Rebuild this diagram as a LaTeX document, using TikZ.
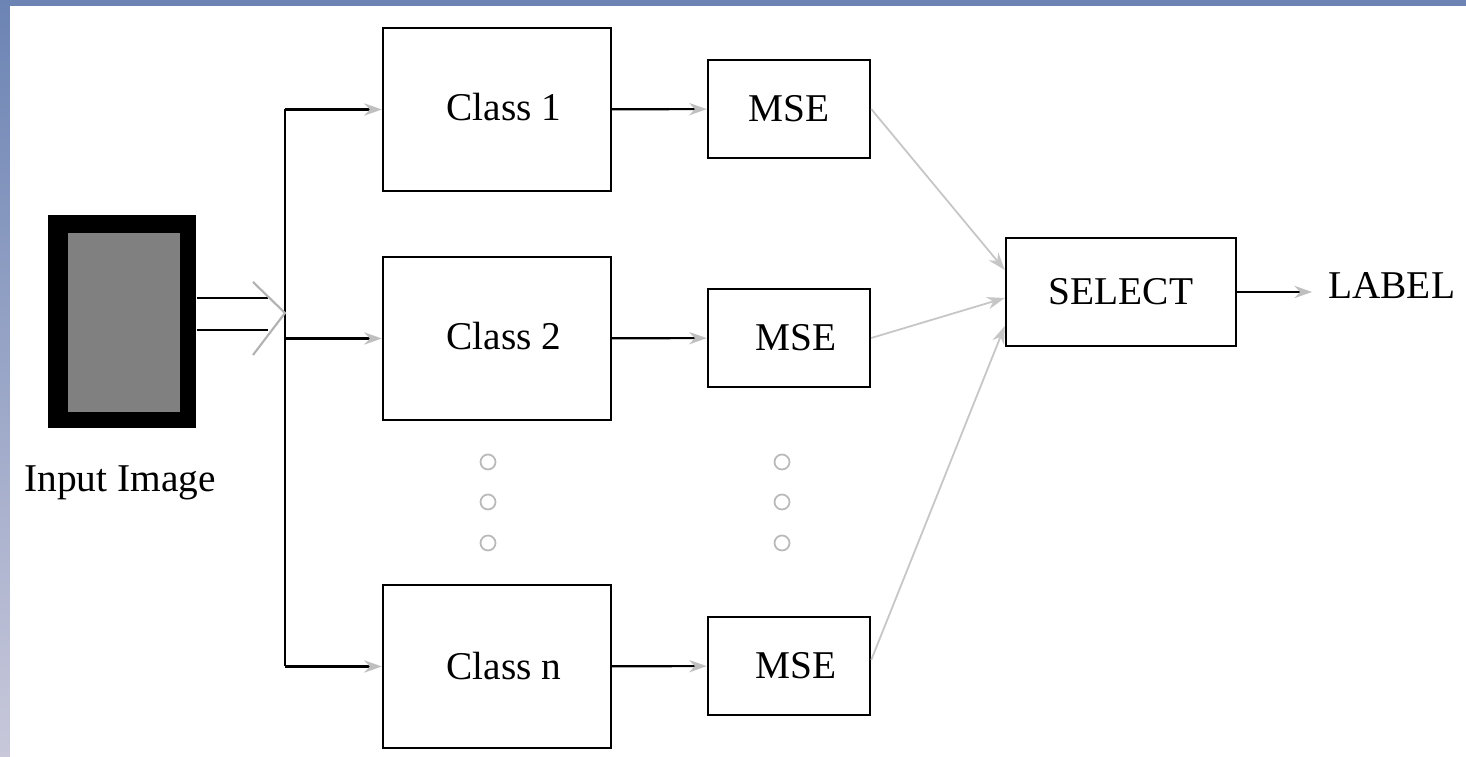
\documentclass[tikz,border=0pt]{standalone}
\usepackage{fontspec}
\setmainfont{Liberation Serif}
\usetikzlibrary{arrows.meta, positioning, calc}

\begin{document}
\begin{tikzpicture}[
    >=Stealth,
    every node/.style={font=\fontsize{11.2}{13}\selectfont},
    clsbox/.style={draw, line width=0.7pt, minimum width=2.28cm, minimum height=1.63cm},
    msebox/.style={draw, line width=0.7pt, minimum width=1.62cm, minimum height=0.98cm},
    feed/.style={line width=0.6pt, -{Stealth[length=5pt, width=3.5pt, color=gray!50]}},
    vote/.style={draw=gray!45, line width=0.5pt, -{Stealth[length=5pt, width=3.5pt]}},
    dot/.style={draw=gray!55, line width=0.5pt}
  ]
  % slide background
  \shade[top color={rgb,255:red,108;green,132;blue,180},
         bottom color={rgb,255:red,200;green,200;blue,218}]
    (0,0) rectangle (14.66,-7.57);
  \fill[white] (0.10,-0.06) rectangle (14.66,-7.57);
  \useasboundingbox (0,0) rectangle (14.66,-7.57);

  % input image
  \node[fill=black, minimum width=1.48cm, minimum height=2.13cm, inner sep=0pt]
    (img) at (1.22,-3.215) {};
  \node[fill=gray, minimum width=1.12cm, minimum height=1.79cm, inner sep=0pt]
    (imgin) at (1.24,-3.225) {};
  \node (imglab) at (1.20,-4.83) {Input Image};

  % class boxes
  \node[clsbox] (c1) at (4.97,-1.095) {\raisebox{0.05cm}{\hspace{0.14cm}Class 1}};
  \node[clsbox] (c2) at (4.97,-3.385) {\raisebox{0.05cm}{\hspace{0.14cm}Class 2}};
  \node[clsbox] (cn) at (4.97,-6.665) {\raisebox{0.0cm}{\hspace{0.14cm}Class n}};

  % mse boxes
  \node[msebox] (m1) at (7.89,-1.09) {MSE};
  \node[msebox] (m2) at (7.89,-3.38) {\hspace{0.14cm}MSE};
  \node[msebox] (mn) at (7.89,-6.66) {\hspace{0.14cm}MSE};

  % select and output
  \node[draw, line width=0.7pt, minimum width=2.30cm, minimum height=1.08cm]
    (sel) at (11.21,-2.92) {SELECT};
  \node[inner sep=1pt, anchor=west] (lab) at (13.24,-2.86) {LABEL};

  % bus
  \coordinate (bus1) at (2.85,-1.095);
  \coordinate (bus2) at (2.85,-3.385);
  \coordinate (busn) at (2.85,-6.665);
  \coordinate (tip) at (2.85,-3.13);
  \draw[line width=0.6pt] (bus1) -- (busn);

  % double arrow from image
  \draw[line width=0.6pt] (img.east |- 0,-2.98) -- (2.68,-2.98);
  \draw[line width=0.6pt] (img.east |- 0,-3.30) -- (2.68,-3.30);
  \draw[gray!60, line width=0.6pt] (2.53,-2.82) -- (tip) -- (2.53,-3.55);

  % branches
  \draw[feed] (bus1) -- (c1.west);
  \draw[feed] (bus2) -- (c2.west);
  \draw[feed] (busn) -- (cn.west);
  \draw[feed] (c1) -- (m1);
  \draw[feed] (c2) -- (m2);
  \draw[feed] (cn) -- (mn);

  % to select
  \draw[vote] (m1.east) -- ([yshift=0.22cm]sel.west);
  \draw[vote] (m2.east) -- ([yshift=-0.06cm]sel.west);
  \draw[vote] ([yshift=0.06cm]mn.east) -- ([yshift=-0.34cm]sel.west);
  \draw[feed] (sel.east) -- ([xshift=-0.12cm]sel.east -| lab.west);

  % dots
  \foreach \x in {4.88,7.82} {
    \foreach \y in {-4.62,-5.02,-5.43} {
      \draw[dot] (\x,\y) circle (0.075);
    }
  }
\end{tikzpicture}
\end{document}
